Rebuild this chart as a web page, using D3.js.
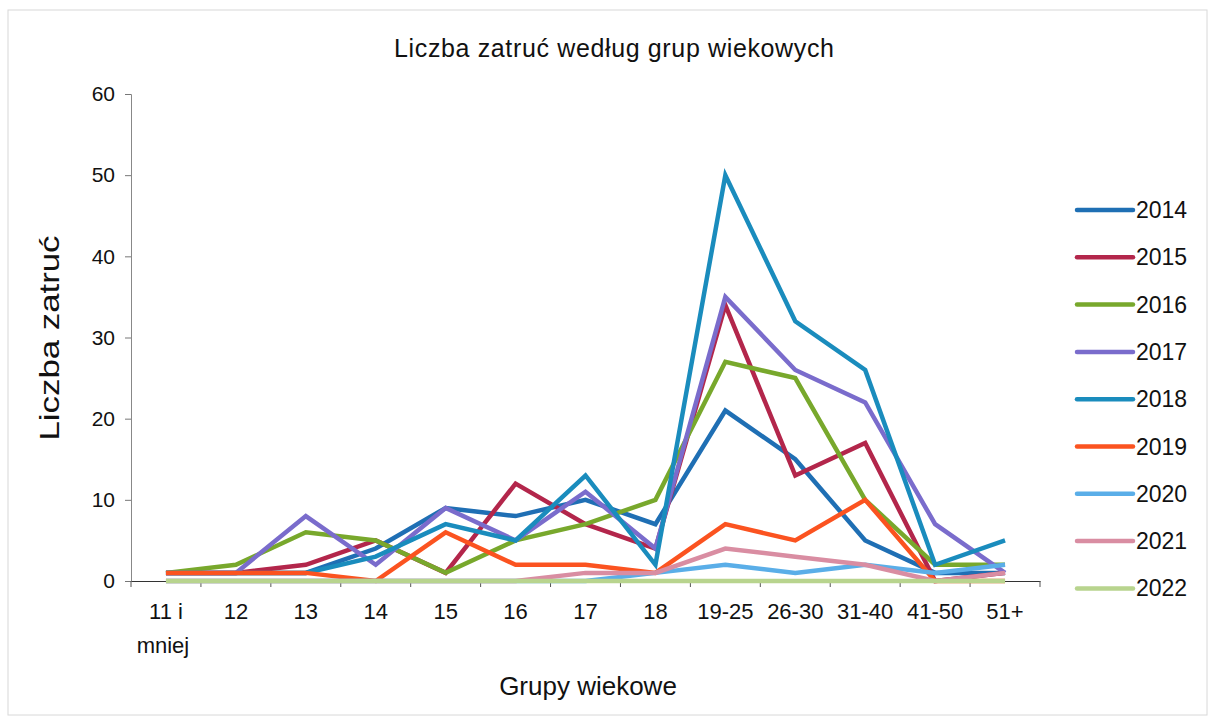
<!DOCTYPE html>
<html>
<head>
<meta charset="utf-8">
<script src="https://cdn.jsdelivr.net/npm/d3@7"></script>
<style>
  body { margin: 0; background: #fff; }
  text { font-family: "Liberation Sans", Arial, sans-serif; fill: #111; }
</style>
</head>
<body>
<svg id="chart" width="1210" height="720"></svg>
<script>
// age groups on the x axis
const groups = ['11 i mniej', '12', '13', '14', '15', '16', '17', '18', '19-25', '26-30', '31-40', '41-50', '51+'];
const years = ['2014', '2015', '2016', '2017', '2018', '2019', '2020', '2021', '2022'];
const colors = ['#1f6fb4', '#b3264b', '#78a82c', '#7a6ccc', '#1a8cbd', '#fb5320', '#5aaee8', '#d98da2', '#b8d48e'];

// values, one array per year
const v2014 = [1, 1, 1, 4, 9, 8, 10, 7, 21, 15, 5, 1, 1];
const v2015 = [1, 1, 2, 5, 1, 12, 7, 4, 34, 13, 17, 0, 1];
const v2016 = [1, 2, 6, 5, 1, 5, 7, 10, 27, 25, 10, 2, 2];
const v2017 = [1, 1, 8, 2, 9, 5, 11, 4, 35, 26, 22, 7, 1];
const v2018 = [1, 1, 1, 3, 7, 5, 13, 2, 50, 32, 26, 2, 5];
const v2019 = [1, 1, 1, 0, 6, 2, 2, 1, 7, 5, 10, 0, 0];
const v2020 = [0, 0, 0, 0, 0, 0, 0, 1, 2, 1, 2, 1, 2];
const v2021 = [0, 0, 0, 0, 0, 0, 1, 1, 4, 3, 2, 0, 1];
const v2022 = [0, 0, 0, 0, 0, 0, 0, 0, 0, 0, 0, 0, 0];
const series = [v2014, v2015, v2016, v2017, v2018, v2019, v2020, v2021, v2022];

const yTicks = [0, 10, 20, 30, 40, 50, 60];

const svg = d3.select('#chart');

// outer frame of the pasted chart
svg.append('rect')
    .attr('x', 8).attr('y', 10)
    .attr('width', 1199).attr('height', 705)
    .attr('fill', 'none')
    .attr('stroke', '#d8d8d8')
    .attr('stroke-width', 1);

const x = d3.scaleBand().domain(groups).range([131, 1040]);
const y = d3.scaleLinear().domain([0, 60]).range([581, 94]);

// title
svg.append('text')
    .attr('x', 614).attr('y', 57)
    .attr('text-anchor', 'middle')
    .attr('font-size', '25px')
    .attr('textLength', 440)
    .text('Liczba zatruć według grup wiekowych');

// y axis
const yAxis = svg.append('g')
    .attr('transform', 'translate(131,0)')
    .call(d3.axisLeft(y).tickValues(yTicks).tickSize(6).tickPadding(10));
yAxis.select('.domain').attr('stroke', '#888');
yAxis.selectAll('.tick line').attr('stroke', '#777');
yAxis.selectAll('.tick text').attr('font-size', '21px').attr('fill', '#111');

// x axis
const xAxis = svg.append('g')
    .attr('transform', 'translate(0,581)')
    .call(d3.axisBottom(x).tickSize(0).tickFormat(''));
xAxis.select('.domain').attr('stroke', '#333');

// ticks between categories
svg.append('g')
    .selectAll('line')
    .data(groups.concat(['end']))
    .enter()
    .append('line')
    .attr('x1', (d, i) => 131 + i * x.step())
    .attr('x2', (d, i) => 131 + i * x.step())
    .attr('y1', 581).attr('y2', 587)
    .attr('stroke', '#555');

// category labels, wrapping "11 i mniej"
const xl = svg.append('g');
groups.forEach(g => {
    const cx = x(g) + x.bandwidth() / 2;
    const parts = g === '11 i mniej' ? ['11 i', 'mniej'] : [g];
    parts.forEach((p, i) => {
        xl.append('text')
            .attr('x', cx - (i === 1 ? 3 : 0))
            .attr('y', 619 + i * 34)
            .attr('text-anchor', 'middle')
            .attr('font-size', '22px')
            .text(p);
    });
});

// axis titles
svg.append('text')
    .attr('transform', 'translate(59,338) rotate(-90)')
    .attr('text-anchor', 'middle')
    .attr('font-size', '28px')
    .attr('textLength', 205)
    .attr('lengthAdjust', 'spacingAndGlyphs')
    .text('Liczba zatruć');

svg.append('text')
    .attr('x', 588).attr('y', 695)
    .attr('text-anchor', 'middle')
    .attr('font-size', '26px')
    .text('Grupy wiekowe');

// lines, 2014 first so later years sit on top
const line = d3.line()
    .x((d, i) => x(groups[i]) + x.bandwidth() / 2)
    .y(d => y(d));

svg.append('g')
    .selectAll('path')
    .data(series)
    .enter()
    .append('path')
    .attr('d', d => line(d))
    .attr('fill', 'none')
    .attr('stroke', (d, i) => colors[i])
    .attr('stroke-width', 4.5)
    .attr('stroke-linejoin', 'miter');

// legend
const legend = svg.append('g')
    .selectAll('g')
    .data(years)
    .enter()
    .append('g')
    .attr('transform', (d, i) => `translate(1077,${210 + i * 47.3})`);

legend.append('line')
    .attr('x1', 0).attr('x2', 56)
    .attr('stroke', (d, i) => colors[i])
    .attr('stroke-width', 4.5)
    .attr('stroke-linecap', 'round');

legend.append('text')
    .attr('x', 59).attr('y', 8)
    .attr('font-size', '23px')
    .text(d => d);
</script>
</body>
</html>
